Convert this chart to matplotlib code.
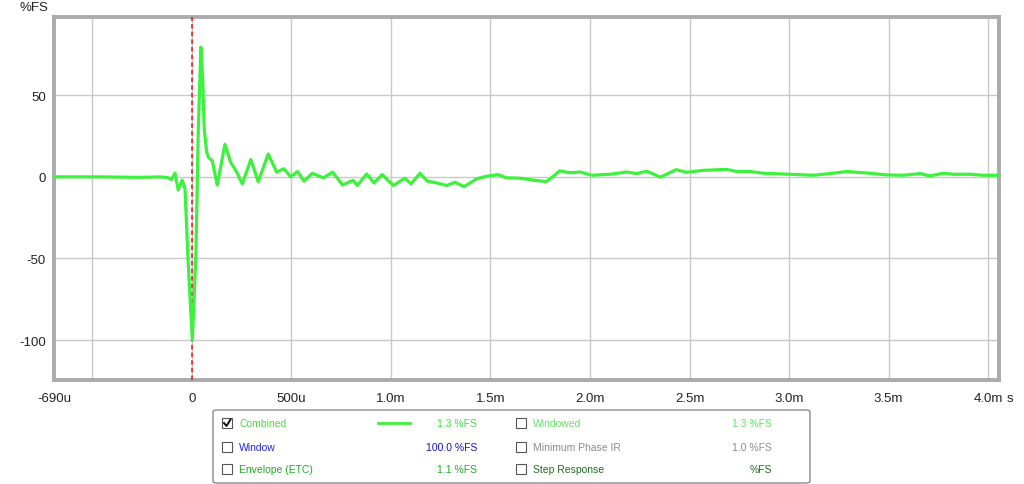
import matplotlib
matplotlib.use("Agg")
import matplotlib.pyplot as plt
from matplotlib.patches import Rectangle, FancyBboxPatch
from matplotlib.lines import Line2D

plt.rcParams["font.family"] = ["Liberation Sans", "DejaVu Sans"]
plt.rcParams["axes.unicode_minus"] = False

# impulse response, time in ms, level in %FS
time_ms = [
    -0.693, -0.46, -0.26, -0.161, -0.121, -0.102, -0.085, -0.069, -0.049, -0.035,
    -0.019, 0.002, 0.020, 0.032, 0.045, 0.054, 0.062, 0.074, 0.085, 0.102,
    0.127, 0.166, 0.194, 0.225, 0.253, 0.296, 0.333, 0.383, 0.426, 0.462,
    0.496, 0.531, 0.563, 0.605, 0.660, 0.707, 0.757, 0.794, 0.811, 0.831,
    0.878, 0.915, 0.956, 1.012, 1.070, 1.101, 1.146, 1.182, 1.230, 1.280,
    1.322, 1.367, 1.431, 1.481, 1.539, 1.581, 1.648, 1.714, 1.782, 1.849,
    1.899, 1.950, 2.009, 2.101, 2.184, 2.235, 2.285, 2.354, 2.432, 2.486,
    2.569, 2.687, 2.737, 2.804, 2.871, 3.005, 3.122, 3.206, 3.290, 3.407,
    3.491, 3.574, 3.658, 3.709, 3.775, 3.826, 3.910, 3.976, 4.055,
]
level_pct = [
    0.0, 0.0, -0.3, 0.0, -0.5, -1.6, 2.3, -8.0, -2.0, -7.0,
    -52.0, -100.0, -48.0, 29.0, 79.5, 60.0, 29.0, 15.0, 11.6, 10.0,
    -5.0, 20.0, 9.0, 3.0, -4.3, 10.6, -3.0, 14.0, 2.9, 5.0,
    0.0, 3.3, -2.6, 2.2, -0.6, 2.9, -5.0, -2.9, -2.2, -5.3,
    1.8, -3.7, 1.4, -5.3, -0.8, -4.3, 2.2, -2.6, -3.7, -5.3,
    -3.3, -6.0, -1.2, 0.4, 1.4, -0.6, -0.8, -2.0, -2.9, 3.7,
    2.5, 3.0, 1.0, 1.6, 3.0, 2.0, 3.5, -0.2, 4.4, 2.8,
    4.0, 4.6, 3.3, 3.3, 2.2, 1.6, 1.0, 2.0, 3.3, 2.2,
    1.2, 1.0, 2.0, 0.6, 2.2, 1.6, 1.6, 1.0, 1.0,
]

x_ticks = [-0.69, 0, 0.5, 1.0, 1.5, 2.0, 2.5, 3.0, 3.5, 4.0]
x_labels = ["-690u", "0", "500u", "1.0m", "1.5m", "2.0m", "2.5m", "3.0m", "3.5m", "4.0m"]
y_ticks = [-100, -50, 0, 50]

# legend rows: (label, label colour, value text, value colour, checked)
legend_left = [
    ("Combined", "#44e044", "1.3 %FS", "#44e044", True),
    ("Window", "#2222ee", "100.0 %FS", "#1010cc", False),
    ("Envelope (ETC)", "#22aa22", "1.1 %FS", "#22aa22", False),
]
legend_right = [
    ("Windowed", "#66e066", "1.3 %FS", "#66e066"),
    ("Minimum Phase IR", "#8c8c8c", "1.0 %FS", "#8c8c8c"),
    ("Step Response", "#1f6e1f", "%FS", "#1f6e1f"),
]

W, H = 1024, 485
fig = plt.figure(figsize=(W / 100, H / 100), dpi=100)
fig.patch.set_facecolor("white")


def fx(px):
    return px / W


def fy(py):
    return 1 - py / H


ax = fig.add_axes([fx(54), fy(381), fx(999) - fx(54), fy(18) - fy(381)])
ax.set_xlim(-0.693, 4.055)
ax.set_ylim(-124.5, 98)

grid_x = [-0.5, 0, 0.5, 1.0, 1.5, 2.0, 2.5, 3.0, 3.5, 4.0]
for gx in grid_x:
    ax.axvline(gx, color="#c8c8c8", lw=1.0, zorder=0)
for gy in y_ticks:
    ax.axhline(gy, color="#c8c8c8", lw=1.0, zorder=0)

ax.axvline(0, color="#ee1111", lw=1.1, ls=(0, (3, 2)), zorder=3)
ax.plot(time_ms, level_pct, color="#3cf23c", lw=2.3, zorder=4,
        solid_joinstyle="round")

ax.set_xticks(x_ticks)
ax.set_xticklabels(x_labels)
ax.set_yticks(y_ticks)
ax.tick_params(length=0, labelsize=9.5, colors="#222222", pad=9)
ax.tick_params(axis="y", pad=6)
for s in ax.spines.values():
    s.set_color("#ababab")
    s.set_linewidth(2.8)

# unit after the last x label
fig.text(fx(1007), fy(402), "s", fontsize=9.5, color="#222222", va="baseline", ha="left")
fig.text(fx(20), fy(8), "%FS", fontsize=9.5, color="#222222", va="center", ha="left")

# legend panel
box = FancyBboxPatch((fx(213), fy(484)), fx(810) - fx(213), fy(411) - fy(484),
                     boxstyle="round,pad=0,rounding_size=0.004",
                     transform=fig.transFigure, facecolor="white",
                     edgecolor="#8a8a8a", lw=1.0)
fig.patches.append(box)

row_y = [424, 448, 470]


def checkbox(px, py, checked):
    r = Rectangle((fx(px), fy(py + 5)), fx(10), fy(0) - fy(10),
                  transform=fig.transFigure, facecolor="white",
                  edgecolor="#555555", lw=0.8)
    fig.patches.append(r)
    if checked:
        fig.lines.append(Line2D([fx(px + 2), fx(px + 4.5), fx(px + 8.5)],
                                [fy(py), fy(py + 3), fy(py - 3.5)],
                                transform=fig.transFigure, color="#111111", lw=1.4))


for (lab, lc, val, vc, chk), py in zip(legend_left, row_y):
    checkbox(222, py, chk)
    fig.text(fx(239), fy(py), lab, color=lc, fontsize=7.5, va="center", ha="left")
    fig.text(fx(477), fy(py), val, color=vc, fontsize=7.5, va="center", ha="right")

fig.lines.append(Line2D([fx(378), fx(410)], [fy(424), fy(424)],
                        transform=fig.transFigure, color="#3cf23c", lw=2.0))

for (lab, lc, val, vc), py in zip(legend_right, row_y):
    checkbox(516, py, False)
    fig.text(fx(533), fy(py), lab, color=lc, fontsize=7.5, va="center", ha="left")
    fig.text(fx(772), fy(py), val, color=vc, fontsize=7.5, va="center", ha="right")

fig.savefig("out.png", dpi=100)
